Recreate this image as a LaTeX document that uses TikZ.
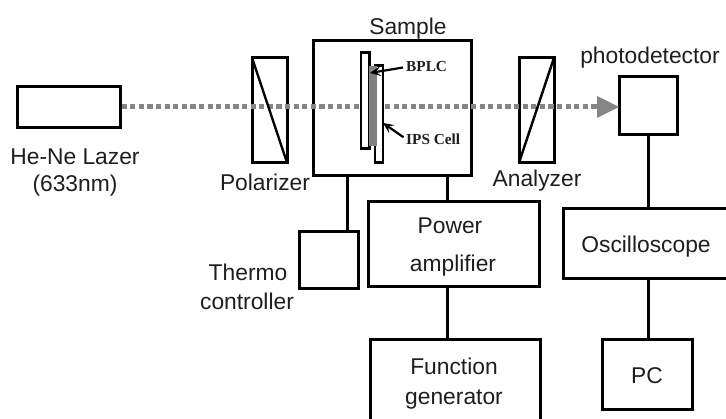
\documentclass[tikz,border=0pt]{standalone}
\usepackage{fontspec}
\usetikzlibrary{arrows.meta}
\setmainfont{Liberation Sans}
\newfontfamily\serifb{Liberation Serif}
\definecolor{beamgray}{HTML}{858585}
\definecolor{inkblack}{HTML}{1E1E1E}
\begin{document}
\begin{tikzpicture}[x=1pt,y=-1pt,
  frame/.style={draw=black,line width=3pt,fill=white,inner sep=0pt,outer sep=0pt,anchor=north west},
  plate/.style={draw=black,line width=2.2pt,fill=white,inner sep=0pt,outer sep=0pt,anchor=north west},
  wire/.style={draw=black,line width=3pt},
  diag/.style={draw=black,line width=2.4pt},
  beam/.style={draw=beamgray,line width=5pt,dash pattern=on 5.2pt off 3.4pt},
  txt/.style={font=\fontsize{22.8}{27}\selectfont,inner sep=0pt,anchor=base,text=inkblack},
  small/.style={font=\serifb\bfseries\fontsize{15.3}{17}\selectfont,inner sep=0pt,text=inkblack,anchor=west},
  pointer/.style={draw=black,line width=2.2pt,-{Stealth[length=11pt,width=10pt,inset=5pt]},shorten <=3pt}]
\useasboundingbox (0,0) rectangle (726,419);
\tikzset{box/.style n args={2}{frame,minimum width=#1,minimum height=#2}}
% optical bench
\node[box={103}{41}] (laser) at (17,86.7) {};
\node[box={35}{105}] (pol) at (252,57.7) {};
\node[box={158}{135}] (sample) at (313,40.7) {};
\node[box={35}{105}] (ana) at (519,57.7) {};
\node[box={58}{58}] (pd) at (619,76.7) {};
\node[plate,minimum width=8pt,minimum height=97pt] (ips) at (375,65.5) {};
\node[plate,minimum width=8.5pt,minimum height=96pt] (glass) at (361,52.5) {};
\node[fill=gray,inner sep=0pt,outer sep=0pt,anchor=north west,minimum width=7.5pt,minimum height=80pt] (lc) at (369,66.5) {};
% beam
\coordinate (beamin) at (360,107);
\coordinate (beamout) at (385,107);
\coordinate (tipbase) at (597,107);
\draw[beam] (laser.east |- beamin) ++(1.5,0) -- (beamin);
\draw[beam] (beamout) -- (tipbase);
\fill[beamgray] (597,96) -- (pd.west |- beamin) -- (597,118) -- cycle;
\draw[diag] (pol.north west) -- (pol.south east);
\draw[diag] (ana.south west) -- (ana.north east);
% sample labels
\node[small] (bplc) at (406,67) {BPLC};
\node[small] (cell) at (406,139) {IPS Cell};
\coordinate (bplctip) at (370,73);
\coordinate (celltip) at (383,123);
\draw[pointer] (bplc.west) -- (bplctip);
\draw[pointer] (cell.west) -- (celltip);
% electronics
\node[box={171}{85}] (amp) at (368,201.5) {};
\node[box={170}{84}] (fg) at (370,339.5) {};
\node[box={59}{57}] (thermo) at (299,231.7) {};
\node[box={166}{70}] (scope) at (563,208.5) {};
\node[box={90}{70}] (pc) at (602,339.5) {};
\coordinate (tw) at (347,0);
\coordinate (pw) at (447,0);
\coordinate (sw) at (648,0);
\draw[wire] (tw |- sample.south) -- (tw |- thermo.north);
\draw[wire] (pw |- sample.south) -- (pw |- amp.north);
\draw[wire] (pw |- amp.south) -- (pw |- fg.north);
\draw[wire] (sw |- pd.south) -- (sw |- scope.north);
\draw[wire] (sw |- scope.south) -- (sw |- pc.north);
% labels
\node[txt] (l1) at (408,35) {Sample};
\node[txt] (l2) at (650,64) {photodetector};
\node[txt] (l3) at (75,165) {He-Ne Lazer};
\node[txt] (l4) at (75,192) {(633nm)};
\node[txt] (l5) at (265,191) {Polarizer};
\node[txt] (l6) at (537,187) {Analyzer};
\node[txt] (l7) at (450,234) {Power};
\node[txt] (l8) at (453,272) {amplifier};
\node[txt] (l9) at (646,253) {Oscilloscope};
\node[txt] (l10) at (647,384) {PC};
\node[txt] (l11) at (454,375) {Function};
\node[txt] (l12) at (454,405) {generator};
\node[txt] (l13) at (248,281) {Thermo};
\node[txt] (l14) at (247,310) {controller};
\end{tikzpicture}
\end{document}
